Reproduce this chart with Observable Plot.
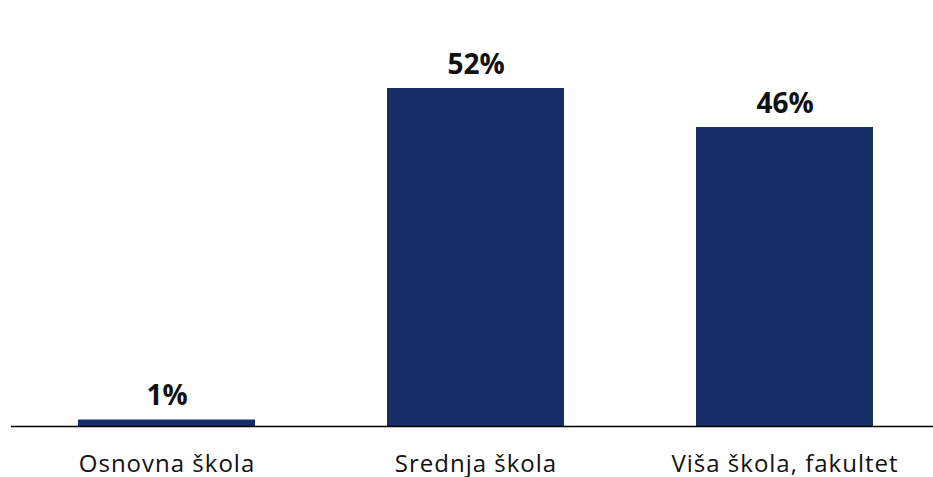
<!DOCTYPE html>
<html>
<head>
<meta charset="utf-8">
<script src="https://cdn.jsdelivr.net/npm/d3@7"></script>
<script src="https://cdn.jsdelivr.net/npm/@observablehq/plot@0.6"></script>
<style>
  html, body { margin: 0; padding: 0; background: #fff; }
  #chart { width: 933px; height: 477px; }
  .xlabels text { letter-spacing: 1px; }
</style>
</head>
<body>
<div id="chart"></div>
<script>
const categories = ["Osnovna škola", "Srednja škola", "Viša škola, fakultet"];
const values = [1, 52, 46];
const valueLabels = ["1%", "52%", "46%"];

const data = categories.map((c, i) => ({category: c, value: values[i], label: valueLabels[i]}));

const chart = Plot.plot({
  width: 933,
  height: 477,
  marginTop: 36,
  marginBottom: 51,
  marginLeft: 11,
  marginRight: 0,
  style: {fontFamily: "'Open Sans', sans-serif", background: "#fff", overflow: "visible"},
  x: {domain: categories, paddingInner: 0.426, paddingOuter: 0.203, align: 0.53, label: null, tickSize: 0, tickPadding: 0},
  y: {domain: [0, 60], axis: null},
  marks: [
    Plot.barY(data, {x: "category", y: "value", fill: "#172f66"}),
    Plot.ruleY([0], {stroke: "#000", strokeWidth: 1.5}),
    Plot.text(data, {x: "category", y: "value", text: "label", dy: -15, fontSize: 28, fontWeight: 700, fill: "#111", lineAnchor: "bottom", textAnchor: "middle"}),
    Plot.axisX({fontSize: 24, tickSize: 0, tickPadding: 28, color: "#111", label: null, className: "xlabels"})
  ]
});
document.getElementById("chart").appendChild(chart);
</script>
</body>
</html>
